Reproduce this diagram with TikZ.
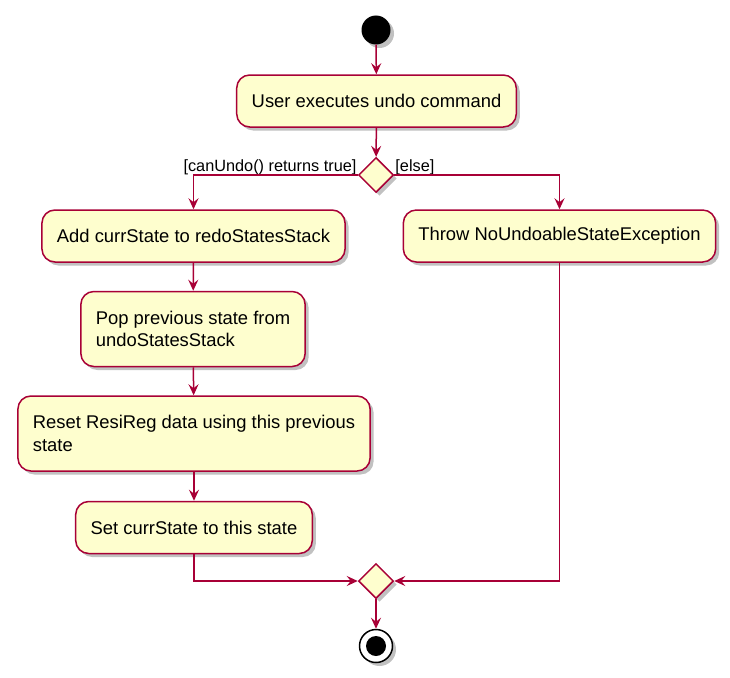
\documentclass[tikz,border=0pt]{standalone}
\usepackage{fontspec}
\setmainfont{Liberation Sans}
\usepackage{tikz}
\usetikzlibrary{positioning,arrows.meta,shapes.geometric,shadows}
\definecolor{umlred}{HTML}{A80036}
\definecolor{umlfill}{HTML}{FEFECE}

\begin{document}
\begin{tikzpicture}[x=1pt,y=-1pt,>={Stealth[length=11pt,width=10pt,inset=4pt]},
  shadowed/.style={drop shadow={shadow xshift=3.5pt,shadow yshift=-3.5pt,opacity=0.35,fill=black!70}},
  act/.style={draw=umlred,fill=umlfill,line width=1.5pt,rounded corners=13pt,shadowed,
              font=\fontsize{18.4}{22.5}\selectfont,align=left,inner xsep=15pt,inner ysep=0pt,
              minimum height=52pt},
  tall/.style={act,minimum height=75pt},
  dec/.style={diamond,draw=umlred,fill=umlfill,line width=1.5pt,shadowed,
              minimum width=35pt,minimum height=35pt,inner sep=0pt},
  guard/.style={font=\fontsize{16.3}{19}\selectfont,inner sep=0pt},
  flow/.style={draw=umlred,line width=1.5pt},
  startdot/.style={circle,fill=black,minimum size=29pt,inner sep=0pt,shadowed},
  endring/.style={circle,draw=black,fill=white,line width=1.5pt,minimum size=33pt,inner sep=0pt,shadowed},
  enddot/.style={circle,fill=black,minimum size=20pt,inner sep=0pt}]
\useasboundingbox (0,0) rectangle (730,677);
% start and first action
\node[startdot] (start) at (376,30) {};
\node[act] (undo) at (376.5,101) {User executes undo command};
\node[dec] (ifundo) at (376,175) {};
\node[guard,anchor=base east] (yes) at ([xshift=-1pt,yshift=4pt]ifundo.west) {[canUndo() returns true]};
\node[guard,anchor=base west] (no) at ([xshift=1pt,yshift=4pt]ifundo.east) {[else]};
% left branch
\node[act] (redo) at (193.5,236) {Add currState to redoStatesStack};
\node[tall] (pop) at (193,329) {Pop previous state from\\undoStatesStack};
\node[tall] (reset) at (194,433.5) {Reset ResiReg data using this previous\\state};
\node[act] (setst) at (194,527.5) {Set currState to this state};
% right branch
\node[act] (throw) at (559.5,236) {Throw NoUndoableStateException};
% merge and end
\node[dec] (merge) at (376,581) {};
\node[endring] (stop) at (376,646) {};
\node[enddot] (stopdot) at (stop) {};
\draw[flow,->] (start) -- (undo);
\draw[flow,->] (undo) -- (ifundo);
\draw[flow,->] (ifundo.west) -| (redo.north);
\draw[flow,->] (ifundo.east) -| (throw.north);
\foreach \u/\v in {redo/pop,pop/reset,reset/setst}
  \draw[flow,->] (\u) -- (\v);
\draw[flow,->] (setst.south) |- (merge.west);
\draw[flow,->] (throw.south) |- (merge.east);
\draw[flow,->] (merge) -- (stop);
\end{tikzpicture}
\end{document}
